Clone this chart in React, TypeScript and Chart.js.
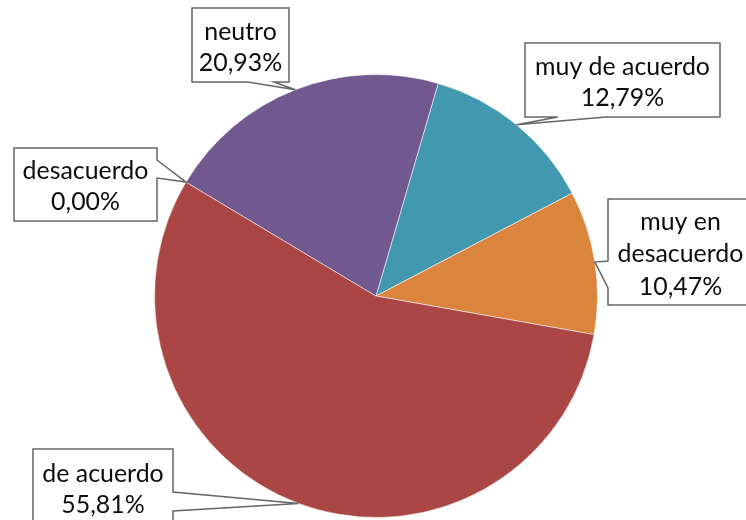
import React, { useEffect, useRef } from "react";
import { Chart, registerables } from "chart.js";

Chart.register(...registerables);

// ---- data ----
const categories = ["muy de acuerdo", "muy en desacuerdo", "de acuerdo", "desacuerdo", "neutro"];
const percentages = [12.79, 10.47, 55.81, 0.0, 20.93];
const labelLines = [["muy de acuerdo"], ["muy en", "desacuerdo"], ["de acuerdo"], ["desacuerdo"], ["neutro"]];
const sliceColors = ["#4198AF", "#DB843D", "#AA4643", "#8FAA4A", "#71588F"];

// ---- callout box layout (style only) ----
const callouts = [
  { x: 525, y: 43, w: 195, h: 74, side: "bottom", a: 558, b: 606 },
  { x: 608, y: 199, w: 145, h: 106, side: "left", a: 261, b: 288 },
  { x: 33, y: 449, w: 140, h: 76, side: "right", a: 492, b: 511 },
  { x: 14, y: 148, w: 143, h: 73, side: "right", a: 160, b: 178 },
  { x: 192, y: 8, w: 97, h: 74, side: "bottom", a: 248, b: 274 },
];

const FONT_FAMILY = "Lato, 'Open Sans', sans-serif";

function fmt(v: number): string {
  return v.toFixed(2).replace(".", ",") + "%";
}

const calloutPlugin = {
  id: "callouts",
  afterDatasetsDraw(chart: any) {
    const ctx = chart.ctx as CanvasRenderingContext2D;
    const meta = chart.getDatasetMeta(0);
    // fit font so "muy de acuerdo" is ~175px wide (Calibri 26px equivalent)
    ctx.save();
    ctx.font = `26px ${FONT_FAMILY}`;
    const wRef = ctx.measureText("muy de acuerdo").width || 175;
    const size = Math.max(18, Math.min(28, (26 * 175) / wRef));
    ctx.restore();

    meta.data.forEach((arc: any, i: number) => {
      const p = arc.getProps(["x", "y", "startAngle", "endAngle", "outerRadius"], true);
      const mid = (p.startAngle + p.endAngle) / 2;
      const tx = p.x + Math.cos(mid) * p.outerRadius;
      const ty = p.y + Math.sin(mid) * p.outerRadius;
      const c = callouts[i];
      const { x, y, w, h, a, b } = c;
      ctx.save();
      ctx.beginPath();
      ctx.moveTo(x, y);
      ctx.lineTo(x + w, y);
      if (c.side === "right") {
        ctx.lineTo(x + w, a);
        ctx.lineTo(tx, ty);
        ctx.lineTo(x + w, b);
      }
      ctx.lineTo(x + w, y + h);
      if (c.side === "bottom") {
        ctx.lineTo(b, y + h);
        ctx.lineTo(tx, ty);
        ctx.lineTo(a, y + h);
      }
      ctx.lineTo(x, y + h);
      if (c.side === "left") {
        ctx.lineTo(x, b);
        ctx.lineTo(tx, ty);
        ctx.lineTo(x, a);
      }
      ctx.closePath();
      ctx.fillStyle = "#ffffff";
      ctx.fill();
      ctx.lineWidth = 1.5;
      ctx.strokeStyle = "#666666";
      ctx.lineJoin = "miter";
      ctx.stroke();

      const lines = [...labelLines[i], fmt(percentages[i])];
      const lh = lines.length > 2 ? 32.5 : 31;
      ctx.font = `${size}px ${FONT_FAMILY}`;
      ctx.fillStyle = "#0d0d0d";
      ctx.textAlign = "center";
      ctx.textBaseline = "middle";
      const cx = x + w / 2;
      const cy = y + h / 2 + 2;
      lines.forEach((t, k) => {
        ctx.fillText(t, cx, cy + (k - (lines.length - 1) / 2) * lh);
      });
      ctx.restore();
    });
  },
};

export default function App() {
  const ref = useRef<HTMLCanvasElement | null>(null);
  useEffect(() => {
    if (!ref.current) return;
    const chart = new Chart(ref.current, {
      type: "pie",
      data: {
        labels: categories,
        datasets: [
          {
            data: percentages,
            backgroundColor: sliceColors,
            borderColor: "rgba(255,255,255,0.55)",
            borderWidth: 1,
          },
        ],
      },
      options: {
        responsive: false,
        animation: false,
        devicePixelRatio: 1,
        rotation: 16.3,
        layout: { padding: { left: 154, right: 148, top: 74, bottom: 2 } },
        plugins: {
          legend: { display: false },
          tooltip: { enabled: false },
        },
        events: [],
      },
      plugins: [calloutPlugin],
    });
    return () => chart.destroy();
  }, []);
  return (
    <div style={{ position: "fixed", left: 0, top: 0, width: 746, height: 520, background: "#ffffff" }}>
      <canvas ref={ref} width={746} height={520} style={{ display: "block" }} />
    </div>
  );
}
